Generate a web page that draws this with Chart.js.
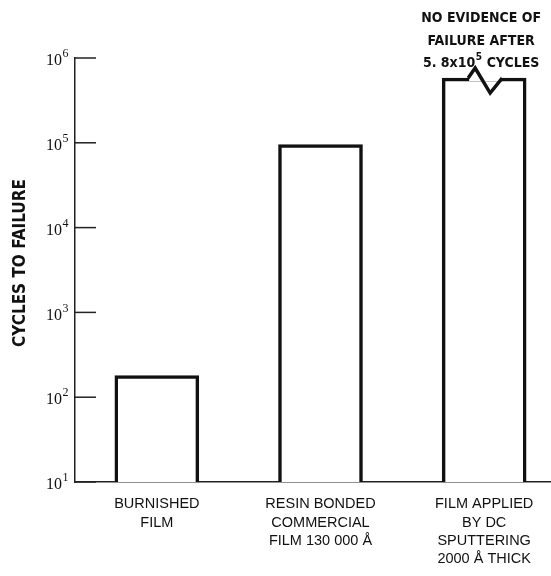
<!DOCTYPE html>
<html>
<head>
<meta charset="utf-8">
<script src="https://cdn.jsdelivr.net/npm/chart.js@4"></script>
<style>
  html, body { margin: 0; padding: 0; background: #fff; overflow: hidden; }
  #wrap { width: 566px; height: 576px; }
</style>
</head>
<body>
<div id="wrap"><canvas id="chart" width="566" height="576"></canvas></div>
<script>
// Chart data
const categories = [
  ["BURNISHED", "FILM"],
  ["RESIN BONDED", "COMMERCIAL", "FILM 130 000 Å"],
  ["FILM APPLIED", "BY DC", "SPUTTERING", "2000 Å THICK"],
];
const cyclesToFailure = [180, 95000, 580000];
const tickExponents = [1, 2, 3, 4, 5, 6];
const noteLines = ["NO EVIDENCE OF", "FAILURE AFTER", "5. 8x10", " CYCLES"];

const ink = "#111";
const narrow = "'Liberation Sans Narrow', 'DejaVu Sans Condensed', sans-serif";

// Ticks drawn inward, superscript tick labels, y title, break mark on last bar
const decorPlugin = {
  id: "decor",
  afterDraw(chart) {
    const ctx = chart.ctx;
    const y = chart.scales.y;
    const left = chart.chartArea.left;
    ctx.save();

    // tick marks and labels
    ctx.strokeStyle = "#222";
    ctx.lineWidth = 1.5;
    ctx.fillStyle = ink;
    tickExponents.forEach((e) => {
      const py = y.getPixelForValue(Math.pow(10, e));
      ctx.beginPath();
      ctx.moveTo(left, py);
      ctx.lineTo(left + 21, py);
      ctx.stroke();
      ctx.font = "16px 'Liberation Serif', serif";
      ctx.textAlign = "right";
      ctx.textBaseline = "middle";
      ctx.fillText("10", left - 13, py + 3);
      ctx.font = "12px 'Liberation Serif', serif";
      ctx.textAlign = "left";
      ctx.fillText(String(e), left - 12.5, py - 4);
    });

    // y title
    ctx.save();
    ctx.translate(21, 263);
    ctx.rotate(-Math.PI / 2);
    ctx.font = "bold 17px " + narrow;
    ctx.textAlign = "center";
    ctx.textBaseline = "middle";
    ctx.fillText("CYCLES TO FAILURE", 0, 0);
    ctx.restore();

    // break symbol on top of the last bar
    const bar = chart.getDatasetMeta(0).data[2];
    const cx = bar.x;
    const top = bar.y;
    ctx.strokeStyle = "#fff";
    ctx.lineWidth = 6;
    ctx.beginPath();
    ctx.moveTo(cx - 15, top);
    ctx.lineTo(cx + 17, top);
    ctx.stroke();
    ctx.strokeStyle = ink;
    ctx.lineWidth = 3.5;
    ctx.lineJoin = "miter";
    ctx.beginPath();
    ctx.moveTo(cx - 16, top);
    ctx.lineTo(cx - 9, top - 10);
    ctx.lineTo(cx + 6, top + 15);
    ctx.lineTo(cx + 18, top);
    ctx.stroke();

    // note above the last bar
    ctx.fillStyle = ink;
    ctx.font = "bold 14px " + narrow;
    ctx.textAlign = "center";
    ctx.textBaseline = "middle";
    ctx.fillText(noteLines[0], cx - 3, 18);
    ctx.fillText(noteLines[1], cx - 3, 41);
    const w1 = ctx.measureText(noteLines[2]).width;
    const w2 = ctx.measureText(noteLines[3]).width;
    const startX = cx - 3 - (w1 + 7 + w2) / 2;
    ctx.textAlign = "left";
    ctx.fillText(noteLines[2], startX, 63);
    ctx.font = "bold 10px " + narrow;
    ctx.fillText("5", startX + w1 + 0.5, 57);
    ctx.font = "bold 14px " + narrow;
    ctx.fillText(noteLines[3], startX + w1 + 7, 63);

    ctx.restore();
  },
};

new Chart(document.getElementById("chart"), {
  type: "bar",
  data: {
    labels: categories,
    datasets: [
      {
        data: cyclesToFailure,
        backgroundColor: "#fff",
        borderColor: ink,
        borderWidth: 3.5,
        borderSkipped: "bottom",
        barThickness: 84,
      },
    ],
  },
  options: {
    responsive: false,
    animation: false,
    layout: { padding: { top: 58, right: 0, bottom: 0, left: 0 } },
    plugins: {
      legend: { display: false },
      tooltip: { enabled: false },
    },
    scales: {
      x: {
        grid: { display: false, drawTicks: false },
        border: { display: true, color: "#222", width: 1.5 },
        ticks: {
          color: ink,
          padding: 13,
          maxRotation: 0,
          autoSkip: false,
          font: { family: "'Liberation Sans', sans-serif", size: 14.5, lineHeight: 1.27 },
        },
        afterFit: (scale) => { scale.height = 94; },
      },
      y: {
        type: "logarithmic",
        min: 10,
        max: 1000000,
        grid: { display: false, drawTicks: false },
        border: { display: true, color: "#222", width: 1.5 },
        ticks: { display: false },
        afterFit: (scale) => { scale.width = 75; },
      },
    },
  },
  plugins: [decorPlugin],
});
</script>
</body>
</html>
